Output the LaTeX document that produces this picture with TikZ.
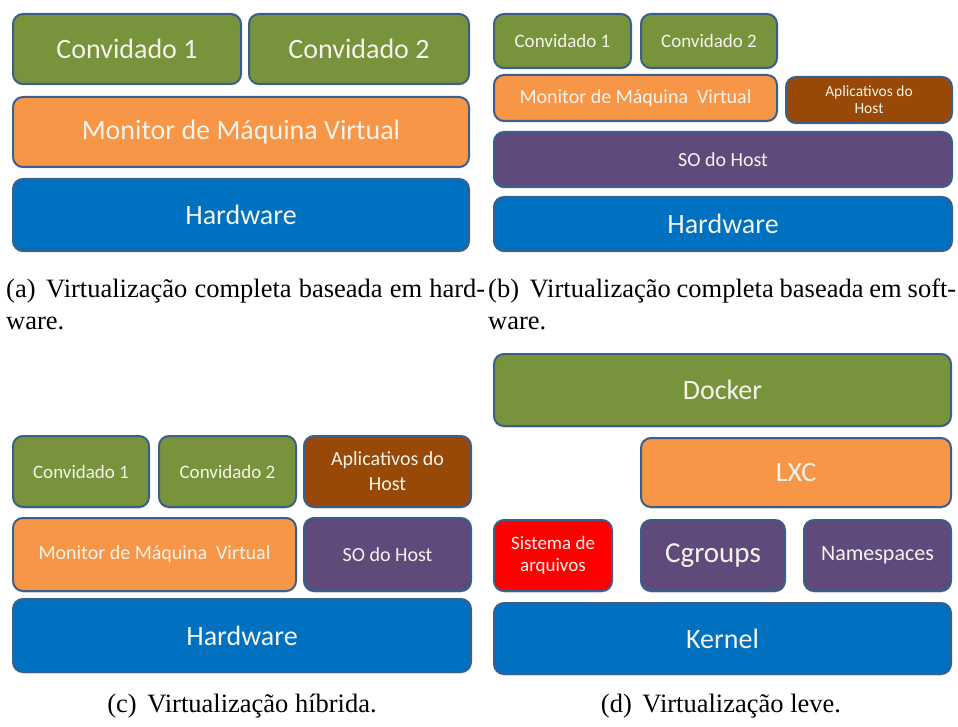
\documentclass[tikz,border=0pt]{standalone}
\usepackage{fontspec}
\setmainfont{Liberation Serif}
\newfontfamily\boxfont{Carlito}
\usetikzlibrary{shadows}

\definecolor{layerline}{HTML}{3A5F8B}
\definecolor{layertext}{HTML}{F4F4EC}
\definecolor{guestgreen}{HTML}{77933C}
\definecolor{vmmorange}{HTML}{F79646}
\definecolor{hwblue}{HTML}{0070C0}
\definecolor{ospurple}{HTML}{604A7B}
\definecolor{appbrown}{HTML}{984807}
\definecolor{fsred}{HTML}{FF0000}

\begin{document}
\begin{tikzpicture}%
	[x=1pt, y=-1pt,
	layer/.style={draw=layerline, line width=2pt, rounded corners=10pt, inner sep=0pt, text=layertext, align=center,
		drop shadow={opacity=0.3, shadow xshift=0pt, shadow yshift=-1.5pt}},
	guest/.style={layer, fill=guestgreen},
	vmm/.style={layer, fill=vmmorange},
	hw/.style={layer, fill=hwblue},
	hostos/.style={layer, fill=ospurple},
	hostapp/.style={layer, fill=appbrown},
	fsbox/.style={layer, fill=fsred},
	big/.style={font=\boxfont\fontsize{28}{32}\selectfont},
	small/.style={font=\boxfont\fontsize{20}{24}\selectfont},
	subcap/.style={inner sep=0pt, font=\fontsize{26.5}{32}\selectfont}]
%
\useasboundingbox (0,0) rectangle (958,727);
%
%% (a) full virtualization, hardware based
%%
\node[guest, big, minimum width=228, minimum height=70] (a-guest1) at (127,49) {Convidado 1};
\node[guest, big, minimum width=220, minimum height=70] (a-guest2) at (359,49) {Convidado 2};
\node[vmm, big, minimum width=456, minimum height=70] (a-vmm) at (241,132) {Monitor de Máquina Virtual};
\node[hw, big, minimum width=456, minimum height=72] (a-hw) at (241,215) {Hardware};
%%
%% (b) full virtualization, software based
%%
\node[guest, font=\boxfont\fontsize{19}{22}\selectfont, minimum width=137, minimum height=54] (b-guest1) at (562.5,41) {Convidado 1};
\node[guest, font=\boxfont\fontsize{19}{22}\selectfont, minimum width=136, minimum height=54] (b-guest2) at (709,41) {Convidado 2};
\node[vmm, small, minimum width=283, minimum height=46] (b-vmm) at (635.5,98) {Monitor de Máquina~ Virtual};
\node[hostapp, font=\boxfont\fontsize{15.5}{17}\selectfont, minimum width=166, minimum height=46] (b-app) at (869,100) {Aplicativos do\\Host};
\node[hostos, small, minimum width=458, minimum height=55] (b-os) at (723,159.5) {SO do Host};
\node[hw, big, minimum width=458, minimum height=54] (b-hw) at (723,224) {Hardware};
%%
%% (c) hybrid virtualization
%%
\node[guest, font=\boxfont\fontsize{19}{22}\selectfont, minimum width=136, minimum height=71] (c-guest1) at (81,471.5) {Convidado 1};
\node[guest, font=\boxfont\fontsize{19}{22}\selectfont, minimum width=137, minimum height=71] (c-guest2) at (227.5,471.5) {Convidado 2};
\node[hostapp, font=\boxfont\fontsize{20}{25}\selectfont, minimum width=167, minimum height=71] (c-app) at (387.5,471.5) {Aplicativos do\\Host};
\node[vmm, small, minimum width=283, minimum height=73] (c-vmm) at (154.5,554.5) {Monitor de Máquina~ Virtual};
\node[hostos, small, minimum width=167, minimum height=73] (c-os) at (387.5,554.5) {SO do Host};
\node[hw, big, minimum width=458, minimum height=73] (c-hw) at (242,635.5) {Hardware};
%%
%% (d) lightweight virtualization
%%
\node[guest, big, minimum width=457, minimum height=72] (d-docker) at (722.5,390) {Docker};
\node[vmm, big, minimum width=310, minimum height=69] (d-lxc) at (796,472.5) {LXC};
\node[fsbox, font=\boxfont\fontsize{19}{22}\selectfont, minimum width=118, minimum height=71] (d-fs) at (553,555.5) {Sistema de\\arquivos};
\node[hostos, font=\boxfont\fontsize{29}{32}\selectfont, minimum width=144, minimum height=71] (d-cgroups) at (713,555.5) {Cgroups};
\node[hostos, font=\boxfont\fontsize{22}{26}\selectfont, minimum width=147, minimum height=71] (d-ns) at (877.5,555.5) {Namespaces};
\node[hw, big, minimum width=457, minimum height=71] (d-kernel) at (722.5,638.5) {Kernel};
%%
%% Sub-captions
%%
\node[subcap, anchor=north west, text width=479, align=justify] (cap-a) at (6,279) {(a)\hspace{0.4em}Virtualização completa baseada em hard-\linebreak ware.};
\node[subcap, anchor=north west, text width=468, align=justify] (cap-b) at (488,279) {(b)\hspace{0.4em}Virtualização completa baseada em soft-\linebreak ware.};
\node[subcap, anchor=base] (cap-c) at (242,712) {(c)\hspace{0.4em}Virtualização híbrida.};
\node[subcap, anchor=base] (cap-d) at (721,712) {(d)\hspace{0.4em}Virtualização leve.};
%%
\end{tikzpicture}
\end{document}
